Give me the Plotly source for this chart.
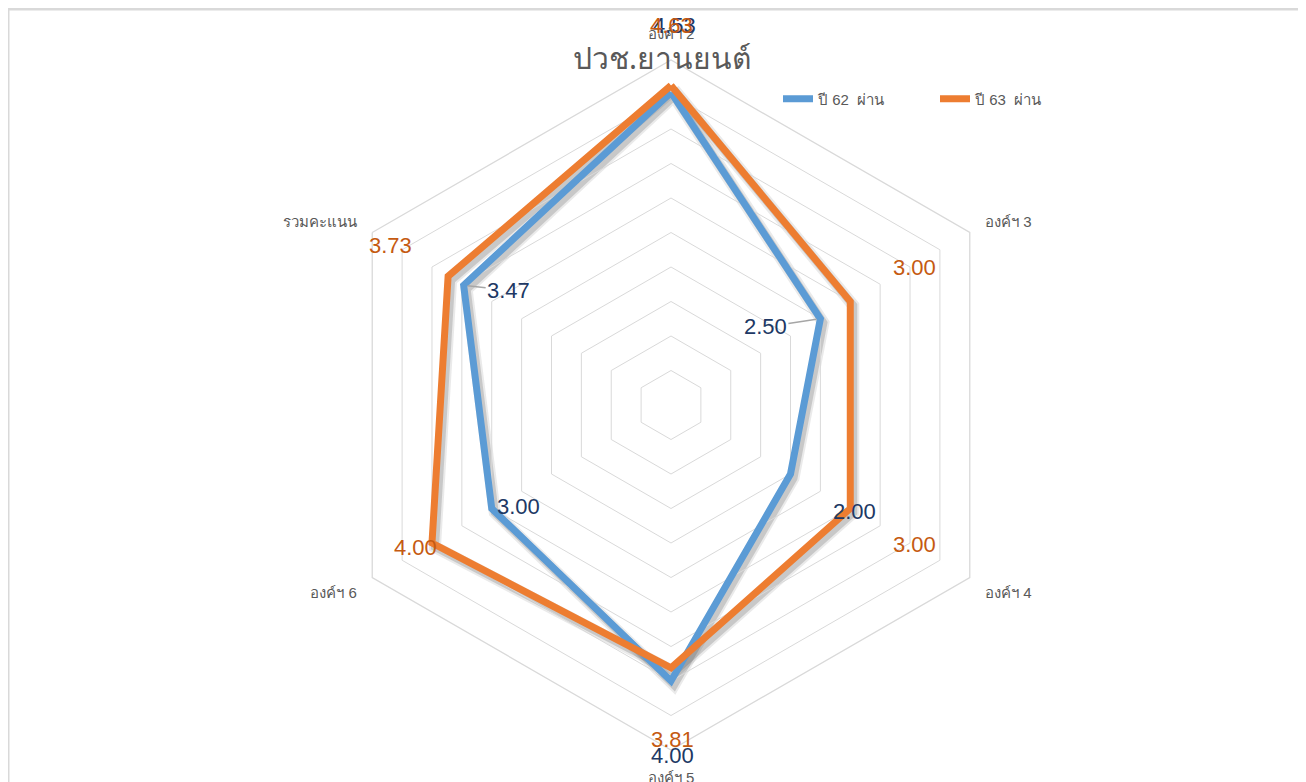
import math
import plotly.graph_objects as go

# ---------------- data ----------------
categories = ["องค์ฯ 2", "องค์ฯ 3", "องค์ฯ 4", "องค์ฯ 5", "องค์ฯ 6", "รวมคะแนน"]
y62_values = [4.53, 2.50, 2.00, 4.00, 3.00, 3.47]
y63_values = [4.63, 3.00, 3.00, 3.81, 4.00, 3.73]
series_names = ["ปี 62  ผ่าน", "ปี 63  ผ่าน"]
chart_title = "ปวช.ยานยนต์"

# ---------------- layout constants ----------------
W, H = 1306, 782
OFF = 8                              # page body margin
CX, CY, R = 671 - OFF, 405 - OFF, 345  # polar centre / radius in px
RMAX = 5
BLUE, ORANGE = "#5b9bd5", "#ed7d31"
BLUE_TXT, ORANGE_TXT = "#203864", "#c55a11"
GRID = "#d9d9d9"
TXT = "#595959"


def dom(cx, cy, r):
    return dict(x=[(cx - r) / W, (cx + r) / W], y=[(H - cy - r) / H, (H - cy + r) / H])


def closed(v):
    return list(v) + [v[0]]


cats_closed = closed(categories)

fig = go.Figure()

# soft shadow (offset polar)
for vals in (y62_values, y63_values):
    for w, a in ((12, 0.10), (8, 0.18)):
        fig.add_trace(go.Scatterpolar(
            r=closed(vals), theta=cats_closed, mode="lines", subplot="polar",
            line=dict(color=f"rgba(50,50,50,{a})", width=w), hoverinfo="skip", showlegend=False))

# main series
fig.add_trace(go.Scatterpolar(
    r=closed(y62_values), theta=cats_closed, mode="lines", subplot="polar2",
    name=series_names[0], line=dict(color=BLUE, width=7)))
fig.add_trace(go.Scatterpolar(
    r=closed(y63_values), theta=cats_closed, mode="lines", subplot="polar2",
    name=series_names[1], line=dict(color=ORANGE, width=7)))

fig.update_layout(
    width=W, height=H,
    margin=dict(l=0, r=0, t=0, b=0),
    paper_bgcolor="white", plot_bgcolor="white",
    font=dict(family="Liberation Sans, Noto Sans, sans-serif", color=TXT),
    polar=dict(
        domain=dom(CX + 3, CY + 4, R), gridshape="linear", bgcolor="rgba(0,0,0,0)",
        radialaxis=dict(range=[0, RMAX], visible=False),
        angularaxis=dict(categoryorder="array", categoryarray=categories, direction="clockwise",
                         rotation=90, visible=False),
    ),
    polar2=dict(
        domain=dom(CX, CY, R), gridshape="linear", bgcolor="rgba(0,0,0,0)",
        radialaxis=dict(range=[0, RMAX], dtick=0.5, showticklabels=False, ticks="",
                        showline=False, gridcolor=GRID, gridwidth=1.3, angle=90),
        angularaxis=dict(categoryorder="array", categoryarray=categories, direction="clockwise",
                         rotation=90, showgrid=False, showline=True, linecolor=GRID, linewidth=1.3,
                         ticks="outside", ticklen=14, tickcolor="rgba(0,0,0,0)",
                         tickfont=dict(size=15, color=TXT)),
    ),
    showlegend=True,
    legend=dict(orientation="h", x=(768 - OFF + 10) / W, y=1 - (99 - OFF) / H,
                xanchor="left", yanchor="middle",
                font=dict(size=15, color=TXT), bgcolor="rgba(0,0,0,0)",
                entrywidth=112, entrywidthmode="pixels", itemwidth=30),
)

# title
fig.add_annotation(text=chart_title, x=(662 - OFF) / W, y=1 - (58 - OFF) / H,
                   xref="paper", yref="paper", showarrow=False,
                   font=dict(size=30, color=TXT, family="Noto Sans, Liberation Sans"),
                   xanchor="center", yanchor="middle")


# data labels: anchored to the data point, text offset in px
def point_xy(v, i):
    a = math.radians(i * 360 / len(categories))
    px = CX + v / RMAX * R * math.sin(a)
    py = CY - v / RMAX * R * math.cos(a)
    return px / W, 1 - py / H


blue_offsets = [(3, -67), (-55, 8), (64, 37), (1, 74), (27, -2), (45, 5)]
blue_leader = [False, True, False, False, False, True]
orange_offsets = [(0, -60), (64, -34), (64, 36), (1, 72), (-16, 4), (-58, -31)]

for vals, offs, color, leaders in ((y62_values, blue_offsets, BLUE_TXT, blue_leader),
                                    (y63_values, orange_offsets, ORANGE_TXT, [False] * 6)):
    for i, v in enumerate(vals):
        x, y = point_xy(v, i)
        fig.add_annotation(
            x=x, y=y, xref="paper", yref="paper", text=f"{v:.2f}",
            showarrow=True, ax=offs[i][0], ay=offs[i][1],
            arrowhead=0, arrowwidth=1.5, standoff=4,
            arrowcolor="#a6a6a6" if leaders[i] else "rgba(0,0,0,0)",
            font=dict(size=22, color=color, family="Liberation Sans, Arial"))

# chart area border
fig.add_shape(type="rect", xref="paper", yref="paper", x0=0, x1=1.01, y0=-0.01, y1=1 - 1 / H,
              line=dict(color=GRID, width=3), fillcolor="rgba(0,0,0,0)", layer="below")

fig.write_html("out.html")
